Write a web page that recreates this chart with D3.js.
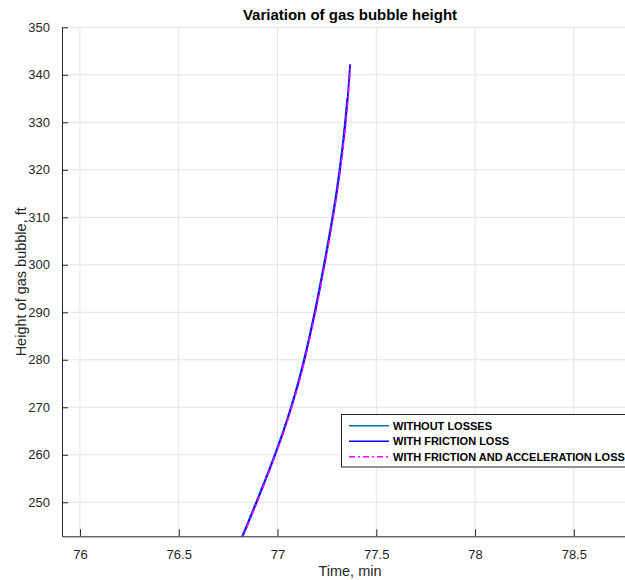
<!DOCTYPE html>
<html>
<head>
<meta charset="utf-8">
<script src="https://cdn.jsdelivr.net/npm/d3@7"></script>
<style>
  html, body { margin: 0; padding: 0; background: #fff; }
  svg { display: block; font-family: "Liberation Sans", Arial, Helvetica, sans-serif; }
</style>
</head>
<body>
<svg id="chart" width="625" height="580"></svg>
<script>
// ---- data ----
const heights = [242.0, 245, 250, 255, 260, 265, 270, 275, 280, 285, 290, 295, 300, 305, 310, 315, 320, 325, 330, 335, 340, 342.2];
const timeWithoutLosses = [76.813, 76.843, 76.892, 76.940, 76.986, 77.029, 77.068, 77.103, 77.134, 77.162, 77.188, 77.212, 77.235, 77.257, 77.278, 77.297, 77.314, 77.329, 77.342, 77.353];
const timeFriction = [76.815, 76.845, 76.894, 76.942, 76.988, 77.031, 77.070, 77.105, 77.136, 77.164, 77.190, 77.214, 77.237, 77.259, 77.280, 77.299, 77.316, 77.331, 77.344, 77.355, 77.364, 77.3675];
const timeFrictionAccel = [76.817, 76.847, 76.896, 76.944, 76.990, 77.033, 77.072, 77.107, 77.138, 77.166, 77.192, 77.216, 77.239, 77.261, 77.282, 77.301, 77.318, 77.333, 77.346, 77.357, 77.366, 77.3695];
const seriesNames = ["WITHOUT LOSSES", "WITH FRICTION LOSS", "WITH FRICTION AND ACCELERATION LOSS"];
const xTicks = [76, 76.5, 77, 77.5, 78, 78.5];
const yTicks = [250, 260, 270, 280, 290, 300, 310, 320, 330, 340, 350];
const xDomain = [75.909, 78.825];
const yDomain = [242.84, 350];

// ---- layout ----
const svg = d3.select("#chart");
const L = 62, R = 638, T = 27.3, B = 536.3;
const x = d3.scaleLinear().domain(xDomain).range([L, R]);
const y = d3.scaleLinear().domain(yDomain).range([B, T]);
const axisColor = "#262626";
const gridColor = "#e3e3e3";

svg.append("defs").append("clipPath").attr("id", "clip")
  .append("rect").attr("x", L).attr("y", T).attr("width", R - L).attr("height", B - T);

// grid
const grid = svg.append("g");
grid.selectAll(".gx").data(xTicks).join("line")
  .attr("x1", d => x(d)).attr("x2", d => x(d)).attr("y1", T).attr("y2", B)
  .attr("stroke", gridColor).attr("stroke-width", 1);
grid.selectAll(".gy").data(yTicks).join("line")
  .attr("x1", L).attr("x2", R).attr("y1", d => y(d)).attr("y2", d => y(d))
  .attr("stroke", gridColor).attr("stroke-width", 1);

// series
const series = [
  { name: seriesNames[0], t: timeWithoutLosses, color: "#0072BD", width: 2, dash: null },
  { name: seriesNames[1], t: timeFriction, color: "#0000FF", width: 1.8, dash: null },
  { name: seriesNames[2], t: timeFrictionAccel, color: "#FF00FF", width: 1.6, dash: "6,3,2,3" }
];
const line = d3.line().x(d => x(d[0])).y(d => y(d[1])).curve(d3.curveMonotoneY);
const plot = svg.append("g").attr("clip-path", "url(#clip)");
series.forEach(s => {
  const pts = s.t.map((t, i) => [t, heights[i]]);
  plot.append("path").datum(pts)
    .attr("d", line).attr("fill", "none")
    .attr("stroke", s.color).attr("stroke-width", s.width)
    .attr("stroke-dasharray", s.dash);
});

// axes
const xAxis = d3.axisBottom(x).tickValues(xTicks).tickSizeInner(-7).tickSizeOuter(0).tickPadding(13)
  .tickFormat(d3.format("~g"));
const yAxis = d3.axisLeft(y).tickValues(yTicks).tickSizeInner(-6).tickSizeOuter(0).tickPadding(12)
  .tickFormat(d3.format("d"));

const gx = svg.append("g").attr("transform", `translate(0,${B})`).call(xAxis);
const gy = svg.append("g").attr("transform", `translate(${L},0)`).call(yAxis);
[gx, gy].forEach(g => {
  g.select(".domain").attr("stroke", axisColor).attr("stroke-width", 1);
  g.selectAll(".tick line").attr("stroke", axisColor).attr("stroke-width", 1);
  g.selectAll(".tick text").attr("fill", axisColor).attr("font-size", 13)
    .attr("font-family", "Liberation Sans, Arial, sans-serif");
});

// title and labels
svg.append("text").attr("x", (L + R) / 2).attr("y", 20).attr("text-anchor", "middle")
  .attr("font-size", 15).attr("font-weight", "bold").attr("fill", "#000")
  .text("Variation of gas bubble height");
svg.append("text").attr("x", (L + R) / 2).attr("y", 576).attr("text-anchor", "middle")
  .attr("font-size", 14.5).attr("fill", axisColor).text("Time, min");
svg.append("text").attr("transform", `translate(26,${(T + B) / 2}) rotate(-90)`)
  .attr("text-anchor", "middle").attr("font-size", 14.5).attr("fill", axisColor)
  .text("Height of gas bubble, ft");

// legend
const lg = svg.append("g");
lg.append("rect").attr("x", 341.5).attr("y", 414.5).attr("width", 300).attr("height", 52.5)
  .attr("fill", "#fff").attr("stroke", axisColor).attr("stroke-width", 1);
const rowY = [425.7, 441.3, 456.7];
series.forEach((s, i) => {
  lg.append("line").attr("x1", 349).attr("x2", 389).attr("y1", rowY[i]).attr("y2", rowY[i])
    .attr("stroke", s.color).attr("stroke-width", 1.6)
    .attr("stroke-dasharray", s.dash);
  lg.append("text").attr("x", 393).attr("y", rowY[i]).attr("dy", "0.35em")
    .attr("font-size", 11).attr("font-weight", "bold").attr("fill", "#000").text(s.name);
});
</script>
</body>
</html>
